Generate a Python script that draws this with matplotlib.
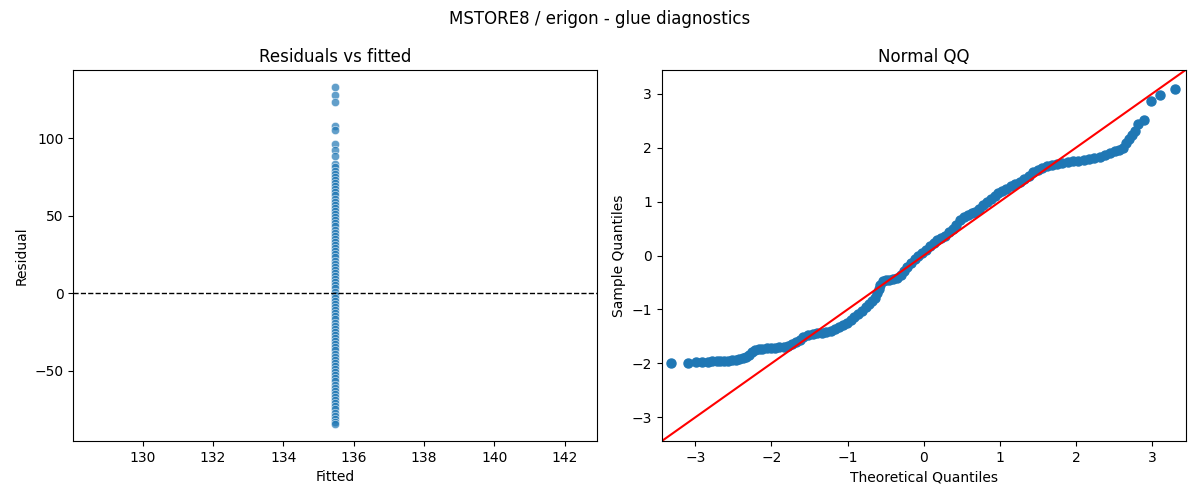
import numpy as np
import matplotlib
matplotlib.use("Agg")
import matplotlib.pyplot as plt

# residuals vs fitted (all fitted values are the same constant)
fitted_value = 135.47
residuals = [133, 128, 123, 108, 105.5, 96, 92, 88.5,
             83, 81, 79, 77, 75, 73, 71, 69, 67, 65, 63, 61, 59, 57, 55,
             53, 51, 49, 47, 45, 43, 41, 39, 37, 35, 33, 31, 29, 27, 25,
             23, 21, 19, 17, 15, 13, 11, 9, 7, 5, 3, 1, -1, -3, -5, -7,
             -9, -11, -13, -15, -17, -19, -21, -23, -25, -27, -29, -31,
             -33, -35, -37, -39, -41, -43, -45, -47, -49, -51, -53, -55,
             -57, -59, -61, -63, -65, -67, -69, -71, -73, -75, -77, -79,
             -81, -83, -84.5]

# normal QQ: theoretical quantile, sample quantile
theo_q = [-3.32, -3.10, -2.99, -2.91, -2.84, -2.78, -2.72, -2.67, -2.62, -2.57,
          -2.52, -2.47, -2.43, -2.38, -2.34, -2.30, -2.26, -2.22, -2.17, -2.12,
          -2.06, -2.00, -1.95, -1.90, -1.84, -1.78, -1.73, -1.68, -1.63, -1.58,
          -1.52, -1.46, -1.40, -1.34, -1.28, -1.22, -1.16, -1.11, -1.06, -1.01,
          -0.96, -0.91, -0.86, -0.81, -0.76, -0.72, -0.68, -0.64, -0.61, -0.59,
          -0.57, -0.54, -0.50, -0.45, -0.40, -0.35, -0.30, -0.26, -0.22, -0.17,
          -0.12, -0.07, -0.02, 0.03, 0.08, 0.13, 0.18, 0.23, 0.28, 0.33,
          0.38, 0.43, 0.48, 0.53, 0.58, 0.63, 0.68, 0.73, 0.78, 0.83,
          0.88, 0.93, 0.98, 1.03, 1.08, 1.14, 1.20, 1.26, 1.32, 1.38,
          1.44, 1.50, 1.56, 1.62, 1.68, 1.75, 1.82, 1.89, 1.96, 2.03,
          2.10, 2.17, 2.24, 2.31, 2.38, 2.45, 2.51, 2.57, 2.62, 2.66,
          2.69, 2.73, 2.77, 2.82, 2.89, 2.98, 3.11, 3.30]
sample_q = [-1.99, -1.99, -1.98, -1.975, -1.97, -1.965, -1.96, -1.955, -1.95, -1.95,
            -1.94, -1.93, -1.92, -1.90, -1.88, -1.84, -1.79, -1.76, -1.74, -1.73,
            -1.72, -1.715, -1.71, -1.70, -1.69, -1.67, -1.64, -1.60, -1.56, -1.52,
            -1.48, -1.46, -1.44, -1.43, -1.42, -1.40, -1.37, -1.33, -1.29, -1.25,
            -1.20, -1.14, -1.08, -1.02, -0.96, -0.90, -0.84, -0.78, -0.70, -0.62,
            -0.54, -0.48, -0.46, -0.45, -0.44, -0.41, -0.36, -0.29, -0.21, -0.14,
            -0.07, -0.01, 0.05, 0.10, 0.17, 0.24, 0.29, 0.33, 0.37, 0.43,
            0.50, 0.57, 0.65, 0.71, 0.75, 0.78, 0.81, 0.87, 0.94, 1.00,
            1.05, 1.10, 1.15, 1.20, 1.24, 1.28, 1.32, 1.36, 1.42, 1.48,
            1.54, 1.59, 1.63, 1.66, 1.68, 1.70, 1.715, 1.73, 1.745, 1.76,
            1.775, 1.79, 1.81, 1.835, 1.865, 1.90, 1.93, 1.95, 2.00, 2.08,
            2.16, 2.24, 2.30, 2.44, 2.51, 2.86, 2.98, 3.09]

fig, (ax1, ax2) = plt.subplots(1, 2, figsize=(12, 5), dpi=100)
fig.subplots_adjust(left=0.061, right=0.988, bottom=0.118, top=0.86, wspace=0.124)

fitted = [fitted_value] * len(residuals)
ax1.scatter(fitted, residuals, s=36, color="#1f77b4", alpha=0.7,
            edgecolor="white", linewidth=0.5)
ax1.axhline(0, color="black", linestyle="--", linewidth=1)
ax1.set_title("Residuals vs fitted")
ax1.set_xlabel("Fitted")
ax1.set_ylabel("Residual")

ax2.plot(theo_q, sample_q, marker="o", linestyle="none", color="#1f77b4",
         markersize=6.5, markerfacecolor="#1f77b4", markeredgecolor="#1f77b4")
lim = (-3.44, 3.44)
ax2.plot(lim, lim, color="red")
ax2.set_xlim(lim)
ax2.set_ylim(lim)
ax2.set_title("Normal QQ")
ax2.set_xlabel("Theoretical Quantiles")
ax2.set_ylabel("Sample Quantiles")

fig.suptitle("MSTORE8 / erigon - glue diagnostics")
fig.savefig("out.png")
